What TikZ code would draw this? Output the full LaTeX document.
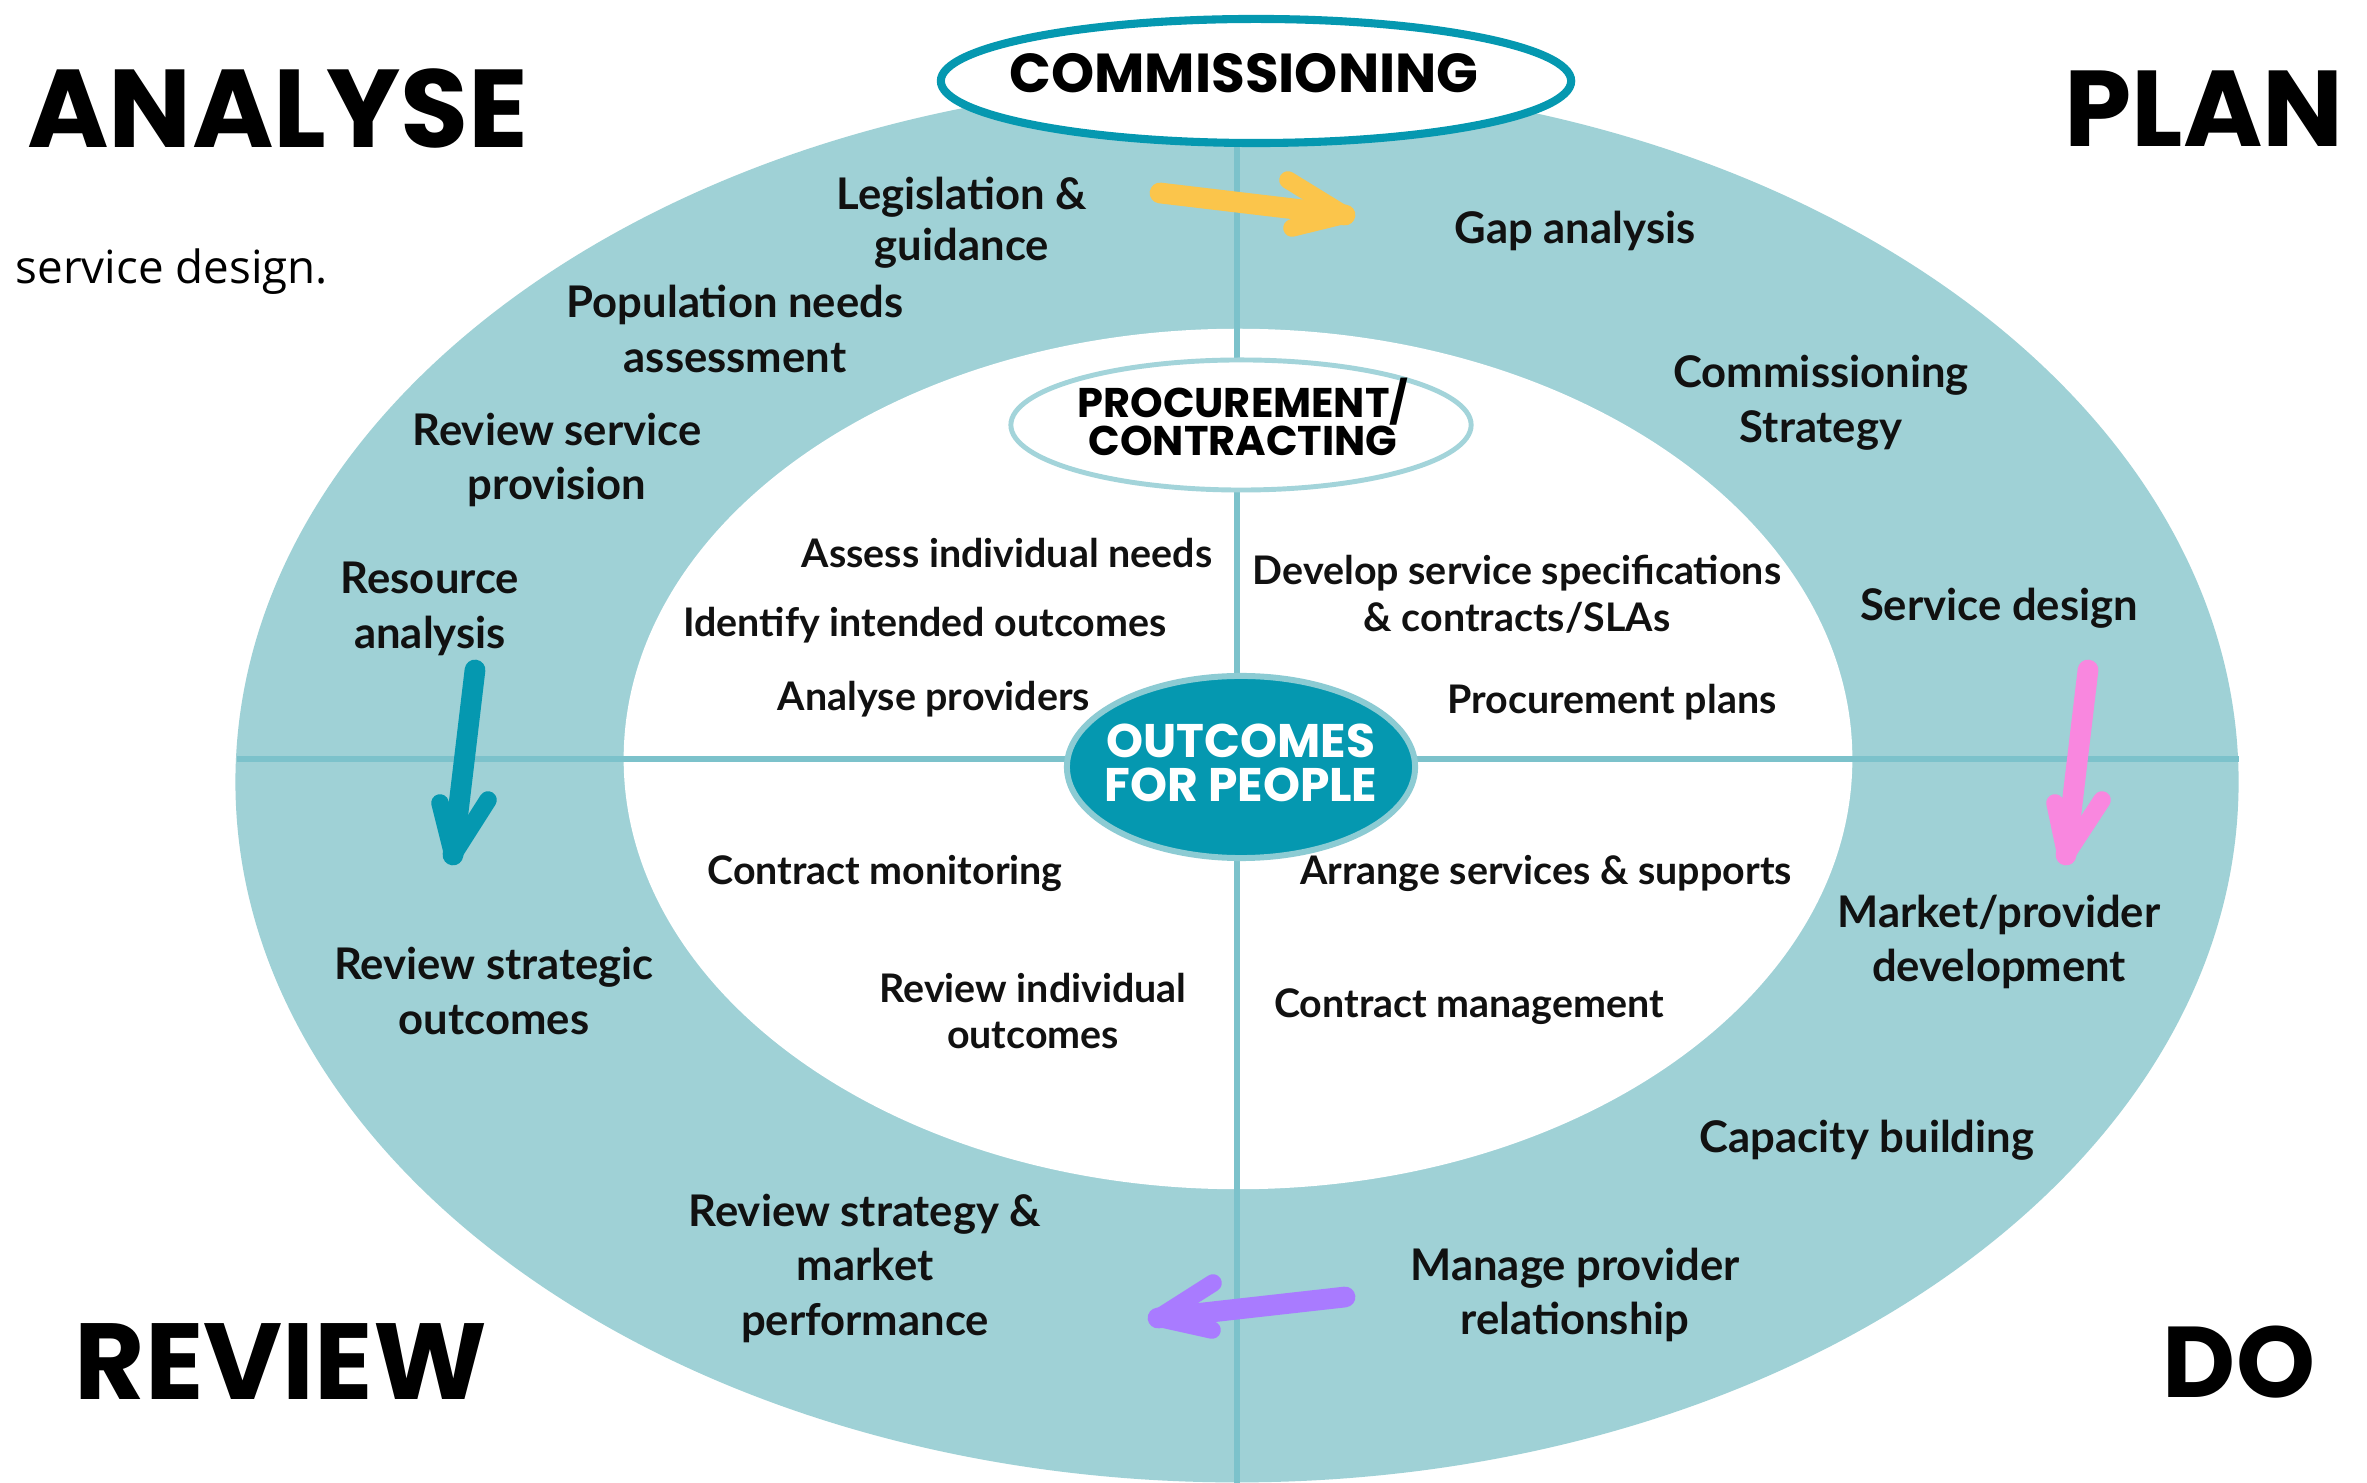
\documentclass[tikz,border=0pt]{standalone}
\usepackage{fontspec}
\usetikzlibrary{shapes.geometric}
\setmainfont{Lato}
\newfontfamily\headfont{Poppins}
\newfontfamily\plainfont{Open Sans}
\definecolor{lteal}{HTML}{9FD1D6}
\definecolor{dteal}{HTML}{0598B0}
\definecolor{divline}{HTML}{7CC2CB}
\definecolor{procline}{HTML}{A3D4DA}
\definecolor{outline}{HTML}{8CCBD3}
\definecolor{arrY}{HTML}{FBC54B}
\definecolor{arrP}{HTML}{F987DF}
\definecolor{arrV}{HTML}{A97BFF}
\definecolor{txt}{HTML}{111111}
\begin{document}
\begin{tikzpicture}[x=0.01cm,y=-0.01cm,
  outerlbl/.style={font=\fontsize{12.4}{15.5}\selectfont\bfseries, align=center, inner sep=0pt, text=txt},
  innerlbl/.style={font=\fontsize{11.2}{13.3}\selectfont\bfseries, align=center, inner sep=0pt, text=txt},
  bigword/.style={inner sep=0pt, text=black},
  arrowline/.style={line width=5.9pt, line cap=round, line join=round},
  headline/.style={line width=5pt, line cap=round, line join=round},
  ring/.style={ellipse, inner sep=0pt}
]
\useasboundingbox (0,0) rectangle (2367,1483);
\fill[white] (0,0) rectangle (2367,1483);

% rings
\node[ring, fill=lteal, minimum width=20.02cm, minimum height=14.00cm] (outer) at (1237,782) {};
\node[ring, fill=white, minimum width=12.28cm, minimum height=8.60cm] (inner) at (1238,759) {};

% dividers
\coordinate (vtop) at (1237,120);
\coordinate (vbot) at (1237,1490);
\coordinate (hleft) at (237,759);
\coordinate (hright) at (2239,759);
\draw[divline, line width=1.7pt] (vtop) -- (vbot);
\draw[divline, line width=1.7pt] (hleft) -- (hright);

% title ellipses
\node[ring, fill=white, draw=dteal, line width=2.3pt, minimum width=6.30cm, minimum height=1.24cm] (comm) at (1256,81) {};
\node[ring, fill=white, draw=procline, line width=1.4pt, minimum width=4.60cm, minimum height=1.30cm] (proc) at (1241,425) {};
\node[ring, fill=dteal, draw=outline, line width=1.7pt, minimum width=3.48cm, minimum height=1.82cm] (outc) at (1241,767) {};

\node[bigword] (commtxt) at (1244,73) {\resizebox{4.69cm}{!}{\headfont\bfseries COMMISSIONING}};
\node[bigword, align=center, font=\headfont\bfseries\fontsize{11.8}{11}\selectfont] (proctxt) at (1243,417) {PROCUREMENT/\\CONTRACTING};
\node[bigword, align=center, text=white, font=\headfont\bfseries\fontsize{13.4}{12.5}\selectfont] (outctxt) at (1241,763) {OUTCOMES\\FOR PEOPLE};

% headings
\node[bigword] (analyse) at (278,109) {\resizebox{5.01cm}{!}{\headfont\bfseries ANALYSE}};
\node[bigword] (plan) at (2204,109) {\resizebox{2.79cm}{!}{\headfont\bfseries PLAN}};
\node[bigword] (review) at (281,1362) {\resizebox{4.12cm}{!}{\headfont\bfseries REVIEW}};
\node[bigword] (do) at (2239,1362) {\resizebox{1.52cm}{!}{\headfont\bfseries DO}};
\node[bigword, anchor=west, font=\plainfont\fontsize{13}{15}\selectfont] (sdtxt) at (15,272) {service design.};

% outer labels
\node[outerlbl, font=\fontsize{12.4}{14.6}\selectfont\bfseries] (leg) at (962,223) {Legislation \&\\guidance};
\node[outerlbl] (gap) at (1575,231) {Gap analysis};
\node[outerlbl] (pop) at (735,329) {Population needs\\assessment};
\node[outerlbl] (cstrat) at (1821,403) {Commissioning\\Strategy};
\node[outerlbl] (revsp) at (557,460) {Review service\\provision};
\node[outerlbl] (res) at (430,609) {Resource\\analysis};
\node[outerlbl] (sdes) at (1999,608) {Service design};
\node[outerlbl] (mkt) at (1999,942) {Market/provider\\development};
\node[outerlbl] (revso) at (494,991) {Review strategic\\outcomes};
\node[outerlbl] (cap) at (1867,1140) {Capacity building};
\node[outerlbl] (revstrat) at (865,1268) {Review strategy \&\\market\\performance};
\node[outerlbl] (manage) at (1575,1295) {Manage provider\\relationship};

% inner labels
\node[innerlbl] (assess) at (1007,553) {Assess individual needs};
\node[innerlbl] (identify) at (925,625) {Identify intended outcomes};
\node[innerlbl] (analyseprov) at (934,699) {Analyse providers};
\node[innerlbl] (develop) at (1517,594) {Develop service specifications\\\& contracts/SLAs};
\node[innerlbl] (procplans) at (1612,702) {Procurement plans};
\node[innerlbl] (cmon) at (885,873) {Contract monitoring};
\node[innerlbl] (arrange) at (1546,873) {Arrange services \& supports};
\node[innerlbl] (revind) at (1033,1011) {Review individual\\outcomes};
\node[innerlbl] (cman) at (1469,1007) {Contract management};

% arrows
\coordinate (ys) at (1160,193); \coordinate (yt) at (1345,215);
\coordinate (ya1) at (1288,180); \coordinate (ya2) at (1292,228);
\draw[arrowline, arrY] (ys) -- (yt);
\draw[headline, arrY] (ya1) -- (yt) -- (ya2);

\coordinate (ts) at (475,670); \coordinate (tt) at (453,855);
\coordinate (ta1) at (440,803); \coordinate (ta2) at (488,800);
\draw[arrowline, dteal] (ts) -- (tt);
\draw[headline, dteal] (ta1) -- (tt) -- (ta2);

\coordinate (ps) at (2088,670); \coordinate (pt) at (2066,855);
\coordinate (pa1) at (2055,803); \coordinate (pa2) at (2102,800);
\draw[arrowline, arrP] (ps) -- (pt);
\draw[headline, arrP] (pa1) -- (pt) -- (pa2);

\coordinate (vs) at (1345,1297); \coordinate (vt) at (1158,1318);
\coordinate (va1) at (1213,1283); \coordinate (va2) at (1212,1330);
\draw[arrowline, arrV] (vs) -- (vt);
\draw[headline, arrV] (va1) -- (vt) -- (va2);
\end{tikzpicture}
\end{document}
